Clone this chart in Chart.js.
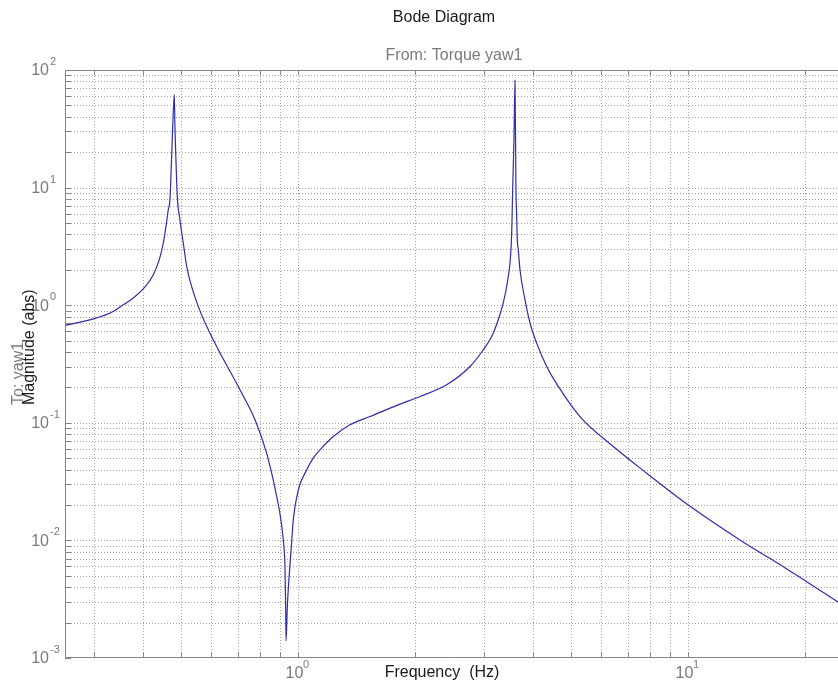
<!DOCTYPE html>
<html>
<head>
<meta charset="utf-8">
<title>Bode Diagram</title>
<script src="https://cdn.jsdelivr.net/npm/chart.js@4.4.1/dist/chart.umd.min.js"></script>
<style>
  html, body { margin: 0; padding: 0; background: #fff; }
  canvas { display: block; }
</style>
</head>
<body>
<canvas id="bodeChart" width="838" height="686"></canvas>
<script>
// Magnitude response (frequency in Hz, magnitude in abs units)
const freqHz = [0.2527, 0.2987, 0.336, 0.3497, 0.3782, 0.4053, 0.4256, 0.4409, 0.4515, 0.4587,
    0.465, 0.4696, 0.474, 0.4773, 0.4818, 0.4836, 0.4865, 0.4903, 0.498, 0.508,
    0.5184, 0.5336, 0.555, 0.5833, 0.6248, 0.710, 0.776, 0.831, 0.864, 0.882,
    0.900, 0.917, 0.926, 0.930, 0.932, 0.939, 0.963, 0.9726, 1.002, 1.053,
    1.094, 1.150, 1.232, 1.359, 1.530, 1.807, 2.055, 2.406, 2.761, 2.987,
    3.138, 3.263, 3.360, 3.441, 3.497, 3.517, 3.535, 3.552, 3.580, 3.601,
    3.622, 3.636, 3.650, 3.672, 3.709, 3.820, 3.935, 4.093, 4.342, 4.650,
    5.285, 6.435, 7.835, 10.02, 13.59, 17.55, 20.16, 24.25];
const magAbs = [0.673, 0.764, 0.885, 0.966, 1.152, 1.429, 1.818, 2.44, 3.38, 4.69,
    6.5, 7.9, 17.3, 33, 61.9, 33, 17.3, 8.5, 5.34, 3.38,
    2.14, 1.445, 0.977, 0.661, 0.418, 0.191, 0.106, 0.0552, 0.0327, 0.0236,
    0.0165, 0.0101, 0.00598, 0.00273, 0.0014, 0.00273, 0.00946, 0.01494, 0.0269, 0.0398,
    0.0501, 0.061, 0.0764, 0.0961, 0.113, 0.142, 0.1675, 0.2105, 0.301, 0.418,
    0.542, 0.753, 1.045, 1.545, 2.29, 2.97, 4.6, 9.6, 25.6, 81.8,
    9.6, 6.0, 3.61, 2.97, 2.0, 1.114, 0.706, 0.476, 0.301, 0.204,
    0.113, 0.0628, 0.0373, 0.020, 0.0101, 0.00598, 0.00446, 0.00300];

// Axis ranges and labelled decades (exponents of 10)
const xRange = [0.2527, 24.25];
const yRange = [1e-3, 1e2];
const xDecades = [0, 1];
const yDecades = [-3, -2, -1, 0, 1, 2];

const textDark = '#1a1a1a';
const textGray = '#7a7a7a';
const axisGray = '#858585';
const gridGray = '#a3a3a3';
const fontFamily = '"Liberation Sans", Arial, sans-serif';

// all 1..9 x 10^n values inside a range, used for grid lines and tick marks
function logSteps(range) {
    const out = [];
    const lo = Math.floor(Math.log10(range[0]));
    const hi = Math.ceil(Math.log10(range[1]));
    for (let d = lo; d <= hi; d++) {
        for (let m = 1; m <= 9; m++) {
            const v = m * Math.pow(10, d);
            if (v >= range[0] * 0.999 && v <= range[1] * 1.001) out.push(v);
        }
    }
    return out;
}

// Draws the MATLAB style frame, dotted grid, tick marks and texts
const bodeFrame = {
    id: 'bodeFrame',
    beforeDatasetsDraw(chart) {
        const { ctx, chartArea: a, scales: { x, y } } = chart;
        ctx.save();
        ctx.strokeStyle = gridGray;
        ctx.lineWidth = 1;
        ctx.setLineDash([1, 2]);
        ctx.beginPath();
        logSteps(xRange).forEach(v => {
            const px = Math.round(x.getPixelForValue(v)) + 0.5;
            if (px < a.left + 1 || px > a.right - 1) return;
            ctx.moveTo(px, a.top);
            ctx.lineTo(px, a.bottom);
        });
        logSteps(yRange).forEach(v => {
            const py = Math.round(y.getPixelForValue(v)) + 0.5;
            if (py < a.top + 1 || py > a.bottom - 1) return;
            ctx.moveTo(a.left, py);
            ctx.lineTo(a.right, py);
        });
        ctx.stroke();
        ctx.restore();
    },
    afterDraw(chart) {
        const { ctx, chartArea: a, scales: { x, y } } = chart;
        ctx.save();

        // axes box (right side falls outside the picture)
        ctx.strokeStyle = axisGray;
        ctx.lineWidth = 1;
        ctx.beginPath();
        ctx.moveTo(a.right, a.top + 0.5);
        ctx.lineTo(a.left + 0.5, a.top + 0.5);
        ctx.lineTo(a.left + 0.5, a.bottom - 0.5);
        ctx.lineTo(a.right, a.bottom - 0.5);
        // tick marks
        logSteps(xRange).forEach(v => {
            const px = Math.round(x.getPixelForValue(v)) + 0.5;
            ctx.moveTo(px, a.top);
            ctx.lineTo(px, a.top + 5);
            ctx.moveTo(px, a.bottom);
            ctx.lineTo(px, a.bottom - 5);
        });
        logSteps(yRange).forEach(v => {
            const py = Math.round(y.getPixelForValue(v)) + 0.5;
            ctx.moveTo(a.left, py);
            ctx.lineTo(a.left + 6, py);
        });
        ctx.stroke();

        // tick labels 10^n
        ctx.fillStyle = textGray;
        yDecades.forEach(e => {
            const py = y.getPixelForValue(Math.pow(10, e));
            ctx.font = '16px ' + fontFamily;
            ctx.textAlign = 'right';
            ctx.textBaseline = 'middle';
            ctx.fillText('10', 49, py + 1);
            ctx.font = '11px ' + fontFamily;
            ctx.textAlign = 'left';
            ctx.fillText(String(e), 50, py - 8);
        });
        xDecades.forEach(e => {
            const px = x.getPixelForValue(Math.pow(10, e));
            ctx.font = '16px ' + fontFamily;
            ctx.textAlign = 'center';
            ctx.textBaseline = 'middle';
            ctx.fillText('10', px - 3.5, 674);
            ctx.font = '11px ' + fontFamily;
            ctx.textAlign = 'left';
            ctx.fillText(String(e), px + 5, 665);
        });

        // titles
        ctx.textAlign = 'center';
        ctx.textBaseline = 'middle';
        ctx.font = '16px ' + fontFamily;
        ctx.fillStyle = textDark;
        ctx.fillText('Bode Diagram', 444, 18);
        ctx.fillStyle = textGray;
        ctx.fillText('From: Torque yaw1', 454, 56);
        ctx.fillStyle = textDark;
        ctx.fillText('Frequency  (Hz)', 442, 673);

        // y axis labels, both starting from the same point
        ctx.translate(0, 405);
        ctx.rotate(-Math.PI / 2);
        ctx.textAlign = 'left';
        ctx.fillStyle = textGray;
        ctx.fillText('To: yaw1', 0, 19);
        ctx.fillStyle = textDark;
        ctx.fillText('Magnitude (abs)', 0, 30);
        ctx.restore();
    }
};

const points = freqHz.map((f, i) => ({ x: f, y: magAbs[i] }));

new Chart(document.getElementById('bodeChart').getContext('2d'), {
    type: 'line',
    data: {
        datasets: [{
            label: 'yaw1',
            data: points,
            borderColor: '#2e2eaa',
            borderWidth: 1.2,
            pointRadius: 0,
            fill: false,
            cubicInterpolationMode: 'monotone'
        }]
    },
    options: {
        responsive: false,
        animation: false,
        devicePixelRatio: 1,
        layout: { padding: { left: 65, top: 70, right: 0, bottom: 28 } },
        plugins: {
            legend: { display: false },
            tooltip: { enabled: false },
            title: { display: false }
        },
        scales: {
            x: { type: 'logarithmic', min: xRange[0], max: xRange[1], display: false },
            y: { type: 'logarithmic', min: yRange[0], max: yRange[1], display: false }
        }
    },
    plugins: [bodeFrame]
});
</script>
</body>
</html>
